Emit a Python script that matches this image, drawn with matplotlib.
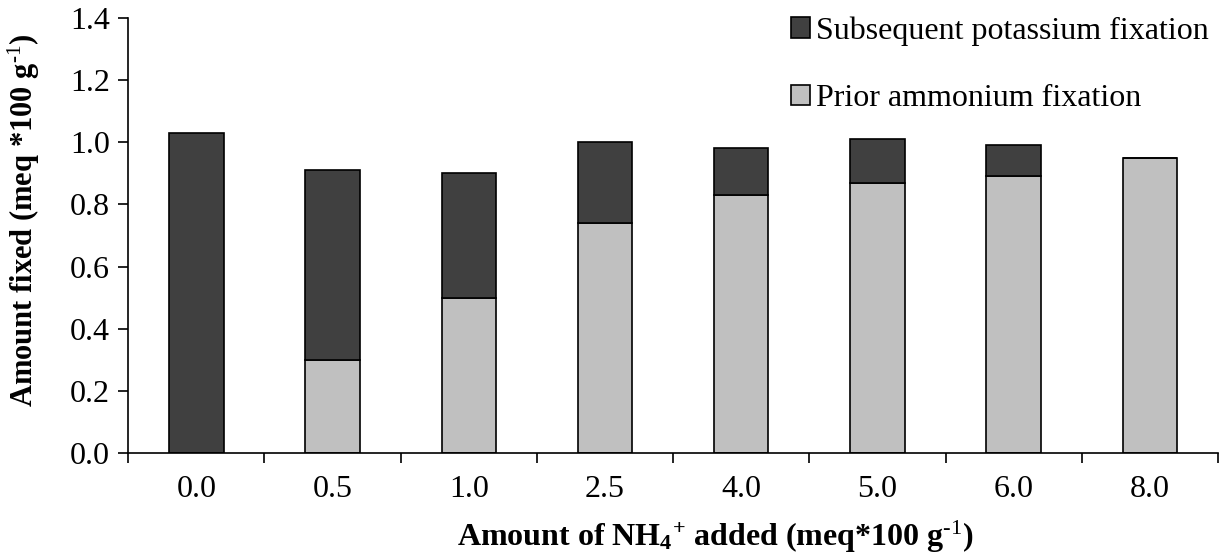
import matplotlib
matplotlib.use("Agg")
import matplotlib.pyplot as plt
import numpy as np

plt.rcParams["font.family"] = ["Liberation Serif", "DejaVu Serif"]
plt.rcParams["mathtext.fontset"] = "custom"
plt.rcParams["mathtext.rm"] = "Liberation Serif"
plt.rcParams["mathtext.bf"] = "Liberation Serif:bold"
plt.rcParams["mathtext.default"] = "regular"

nh4_added = ["0.0", "0.5", "1.0", "2.5", "4.0", "5.0", "6.0", "8.0"]
prior_nh4 = [0.00, 0.30, 0.50, 0.74, 0.83, 0.87, 0.89, 0.95]
subsequent_k = [1.03, 0.61, 0.40, 0.26, 0.15, 0.14, 0.10, 0.00]

DARK = "#404040"
LIGHT = "#c0c0c0"
FS = 23

fig = plt.figure(figsize=(12.21, 5.58), dpi=100)
ax = fig.add_axes([0.105, 0.188, 0.8925, 0.78])

x = np.arange(len(nh4_added))
ax.bar(x, prior_nh4, width=0.4, color=LIGHT, edgecolor="black", linewidth=1.2,
       label="Prior ammonium fixation")
ax.bar(x, subsequent_k, width=0.4, bottom=prior_nh4, color=DARK, edgecolor="black",
       linewidth=1.2, label="Subsequent potassium fixation")

ax.set_xlim(-0.5, len(nh4_added) - 0.5)
ax.set_ylim(0, 1.4)
yt = np.arange(0, 1.41, 0.2)
ax.set_yticks(yt)
ax.set_yticklabels([f"{v:.1f}" for v in yt])
ax.set_xticks(x)
ax.set_xticklabels(nh4_added)
# group boundaries get the visible ticks on the x axis
ax.set_xticks(np.arange(-0.5, len(nh4_added), 1.0), minor=True)
ax.tick_params(axis="x", which="major", length=0, pad=16, labelsize=FS)
ax.tick_params(axis="x", which="minor", length=7, width=1.2, direction="out")
ax.tick_params(axis="y", length=7, width=1.2, direction="out", labelsize=FS, pad=6)

for s in ("top", "right"):
    ax.spines[s].set_visible(False)
for s in ("left", "bottom"):
    ax.spines[s].set_linewidth(1.2)

ax.set_ylabel(r"Amount fixed (meq *100 g$^{\text{-1}}$)", fontsize=22, fontweight="bold")
ax.yaxis.set_label_coords(-0.079, 0.534)
ax.set_xlabel(r"Amount of NH$_4$$^{+}$ added (meq*100 g$^{\text{-1}}$)", fontsize=FS,
              fontweight="bold")
ax.xaxis.set_label_coords(0.539, -0.15)

h, l = ax.get_legend_handles_labels()
ax.legend(h[::-1], l[::-1], loc="upper right", bbox_to_anchor=(1.018, 1.07), frameon=False,
          fontsize=FS, handlelength=0.6, handleheight=0.6, handletextpad=0.2,
          labelspacing=1.2)

fig.savefig("out.png", dpi=100)
